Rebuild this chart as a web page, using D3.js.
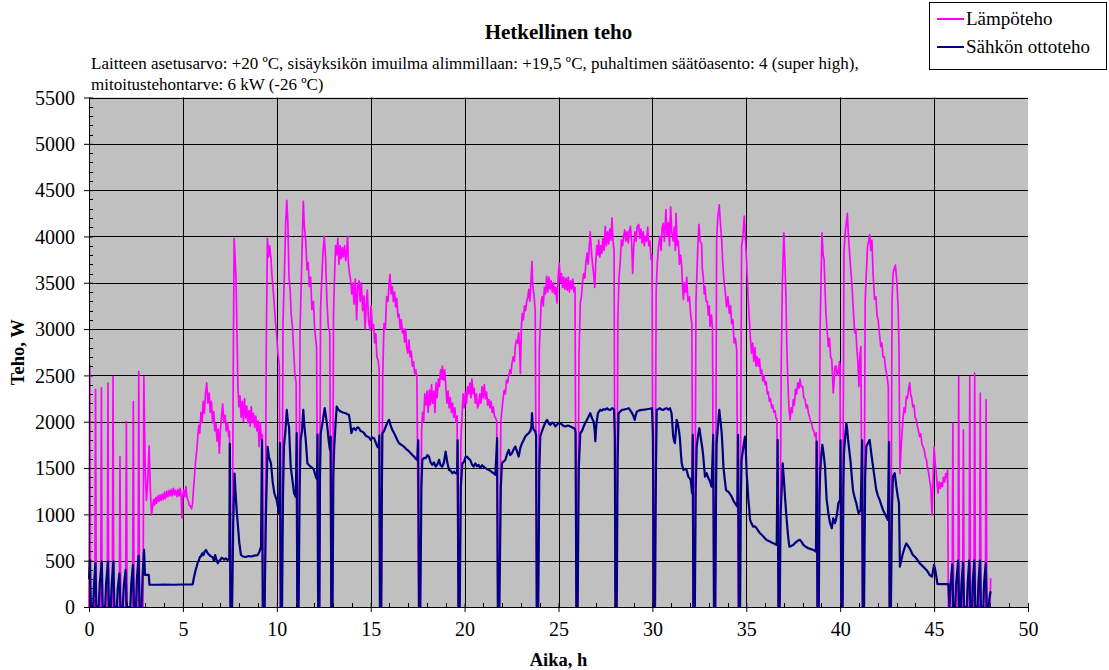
<!DOCTYPE html>
<html>
<head>
<meta charset="utf-8">
<script src="https://cdn.jsdelivr.net/npm/d3@7"></script>
<style>
  body { margin: 0; background: #ffffff; }
  svg text { font-family: "Liberation Serif", "Times New Roman", serif; }
</style>
</head>
<body>
<div id="chart"></div>
<script>
// Aika (h), teho (W)
const lampoteho = [
  [0.00,0],[0.04,2610],[0.08,0],
  [0.31,0],[0.35,2350],[0.39,0],
  [0.62,0],[0.66,2365],[0.70,0],
  [0.97,0],[1.01,2416],[1.05,0],
  [1.24,0],[1.28,2488],[1.32,0],
  [1.61,0],[1.65,1624],[1.69,0],
  [1.95,0],[1.99,2002],[2.03,0],
  [2.32,0],[2.36,2218],[2.40,0],
  [2.61,0],[2.65,2542],[2.69,0],
  [2.88,0],[2.92,2488],[2.99,1500],[3.06,1150],[3.13,1350],[3.20,1740],[3.27,1250],[3.33,994],
  [3.39,1090],[3.44,1160],[3.49,1100],[3.55,1180],[3.60,1120],[3.66,1200],[3.72,1140],[3.78,1210],[3.84,1150],[3.90,1220],
  [3.96,1160],[4.02,1240],[4.08,1170],[4.14,1250],[4.20,1190],[4.26,1260],[4.32,1200],[4.38,1270],[4.44,1200],[4.50,1280],
  [4.56,1210],[4.62,1260],[4.68,1190],[4.74,1270],[4.80,1200],[4.86,1280],[4.91,1190],[4.95,960],[4.99,1200],[5.05,1260],
  [5.11,1190],[5.16,1300],[5.22,1180],[5.28,1150],[5.34,1100],[5.40,1090],[5.46,1060],[5.51,1110],
  [5.56,1260],[5.62,1420],[5.68,1580],[5.74,1700],[5.79,1830],[5.85,1960],[5.90,1880],[5.96,2100],[6.02,1990],[6.08,2220],
  [6.14,2090],[6.20,2300],[6.27,2420],[6.33,2200],[6.40,2310],[6.46,2100],[6.52,2220],[6.58,1990],[6.64,2110],[6.70,1900],
  [6.76,1980],[6.82,1790],[6.88,1920],[6.94,1660],[7.00,1920],[7.06,2060],[7.12,2190],[7.18,1990],[7.25,2070],[7.31,1900],
  [7.38,1990],[7.44,1840],[7.48,1900],
  [7.52,0],[7.62,0],
  [7.68,2500],[7.73,3980],[7.78,3760],[7.83,3530],[7.88,2950],[7.93,2380],[7.98,2160],[8.04,2280],[8.10,2050],[8.16,2220],
  [8.22,2000],[8.28,2250],[8.34,2040],[8.40,2170],[8.46,1990],[8.52,2120],[8.58,1950],[8.64,2160],[8.70,1990],[8.76,2090],
  [8.82,1940],[8.88,2060],[8.94,1900],[9.00,2010],[9.06,1730],[9.12,1990],[9.18,1800],[9.23,1860],
  [9.27,0],[9.37,0],
  [9.44,2800],[9.50,3980],[9.56,3780],[9.62,3900],[9.69,3760],[9.75,3560],[9.81,3420],[9.87,3250],[9.93,3080],[9.99,2940],
  [10.06,2740],[10.13,2620],
  [10.19,0],[10.27,0],
  [10.33,3050],[10.40,3560],[10.47,4120],[10.53,4390],[10.59,4150],[10.65,3560],[10.71,3430],[10.77,3150],[10.83,3030],[10.89,2800],
  [10.96,2520],[11.03,2420],
  [11.08,0],[11.16,0],
  [11.24,3000],[11.31,3560],[11.41,4380],[11.47,4100],[11.54,3960],[11.61,3640],[11.67,3720],[11.73,3460],[11.80,3560],[11.87,3210],
  [11.95,3300],[12.02,2990],[12.12,2800],
  [12.19,0],[12.27,0],
  [12.33,3220],[12.40,3560],[12.46,3830],[12.53,4000],[12.60,3760],[12.67,3300],[12.74,3030],[12.82,2960],
  [12.89,0],[12.96,0],
  [13.02,3180],[13.08,3600],[13.13,3900],[13.19,3800],[13.25,3980],[13.31,3700],[13.37,3900],[13.43,3760],[13.49,3880],[13.55,3780],
  [13.61,3900],[13.67,3740],[13.73,3860],[13.77,4000],[13.81,3720],[13.87,3600],[13.93,3530],[13.99,3380],[14.05,3500],[14.11,3270],
  [14.18,3540],[14.25,3100],[14.31,3460],[14.38,3520],[14.44,3300],[14.50,3500],[14.57,3200],[14.64,3360],[14.70,3000],[14.76,3250],
  [14.82,3420],[14.88,3100],[14.96,2990],[15.02,3250],[15.09,3000],[15.15,3050],[15.21,2850],[15.27,2950],[15.33,2700],[15.40,2660],
  [15.45,2560],
  [15.49,0],[15.57,0],
  [15.64,2500],[15.71,3060],[15.78,3000],[15.85,3350],[15.92,3300],[15.98,3500],[16.03,3590],[16.09,3380],[16.15,3460],[16.21,3300],
  [16.27,3400],[16.33,3240],[16.39,3330],[16.45,3130],[16.51,3160],[16.57,3000],[16.63,3100],[16.69,2960],[16.75,3000],[16.81,2860],
  [16.86,3000],[16.92,2800],[16.98,2740],[17.04,2880],[17.10,2700],[17.16,2760],[17.22,2600],[17.28,2650],[17.34,2520],[17.40,2560],
  [17.46,2470],
  [17.56,0],[17.64,0],
  [17.71,1900],[17.76,2100],[17.82,2000],[17.88,2300],[17.94,2180],[18.00,2330],[18.06,2100],[18.12,2340],[18.18,2180],[18.24,2400],
  [18.30,2200],[18.36,2330],[18.42,2100],[18.48,2420],[18.54,2260],[18.60,2460],[18.66,2380],[18.72,2560],[18.78,2460],[18.82,2600],
  [18.88,2450],[18.94,2560],[19.00,2380],[19.06,2200],[19.12,2330],[19.18,2150],[19.24,2260],[19.30,2100],[19.36,2200],[19.42,2050],
  [19.48,2150],[19.54,2000],[19.60,2060],
  [19.66,0],[19.74,0],
  [19.80,1800],[19.86,2050],[19.92,2300],[19.98,2150],[20.04,2320],[20.10,2200],[20.16,2380],[20.22,2300],[20.28,2420],[20.34,2260],
  [20.39,2460],[20.45,2300],[20.51,2360],[20.57,2200],[20.63,2300],[20.69,2150],[20.75,2180],[20.81,2300],[20.87,2200],[20.93,2380],
  [20.99,2260],[21.05,2400],[21.11,2250],[21.17,2320],[21.23,2180],[21.29,2240],[21.35,2150],[21.41,2220],[21.47,2100],[21.53,2160],
  [21.59,2060],[21.65,2040],[21.71,2010],
  [21.77,0],[21.85,0],
  [21.93,2000],[21.99,2130],[22.05,2250],[22.11,2340],[22.17,2300],[22.23,2450],[22.29,2420],[22.35,2500],[22.41,2560],[22.47,2520],
  [22.53,2640],[22.59,2700],[22.65,2650],[22.70,2810],[22.76,2880],[22.82,2850],[22.88,2960],[22.93,2800],[22.97,2520],[23.02,3000],
  [23.07,3170],[23.13,3100],[23.19,3250],[23.25,3200],[23.31,3300],[23.37,3350],[23.42,3430],[23.47,3300],[23.53,3500],[23.59,3730],
  [23.63,3460],[23.69,3380],[23.76,3200],
  [23.84,0],[23.92,0],
  [23.98,2800],[24.03,3030],[24.08,3300],[24.13,3350],[24.19,3250],[24.25,3450],[24.31,3380],[24.37,3570],[24.43,3400],[24.49,3560],
  [24.55,3430],[24.61,3520],[24.67,3400],[24.73,3500],[24.79,3380],[24.85,3450],[24.92,3280],[24.98,3550],[25.04,3710],[25.10,3500],
  [25.16,3600],[25.22,3450],[25.28,3560],[25.34,3430],[25.40,3550],[25.46,3420],[25.52,3560],[25.58,3400],[25.64,3520],[25.70,3430],
  [25.76,3540],[25.82,3400],[25.88,3450],
  [25.94,0],[26.02,0],
  [26.09,2700],[26.16,3280],[26.22,3350],[26.28,3500],[26.34,3600],[26.40,3550],[26.46,3720],[26.52,3820],[26.58,3700],[26.64,3900],
  [26.69,4050],[26.75,3850],[26.81,3700],[26.87,3600],[26.93,3450],[26.98,3700],[27.04,3900],[27.10,3800],[27.14,3960],[27.20,3780],
  [27.26,3900],[27.31,3820],[27.37,3980],[27.43,3850],[27.49,4110],[27.55,3900],[27.61,4050],[27.67,3920],[27.73,4080],[27.79,3960],
  [27.85,4200],[27.90,3950],[27.96,3850],
  [28.02,0],[28.10,0],
  [28.16,3100],[28.22,3550],[28.28,3700],[28.35,3960],[28.41,3900],[28.47,4000],[28.53,4070],[28.59,3950],[28.65,4050],[28.71,3930],
  [28.77,4060],[28.83,4110],[28.89,3950],[28.95,3600],[29.01,3900],[29.07,4050],[29.13,3950],[29.19,4100],[29.27,4130],[29.33,3980],
  [29.39,4080],[29.45,3930],[29.51,4050],[29.57,3900],[29.63,4000],[29.69,3950],[29.75,4100],[29.81,3900],[29.87,3950],[29.93,3750],
  [29.98,3800],
  [30.05,0],[30.13,0],
  [30.20,3400],[30.26,3710],[30.33,3900],[30.40,4000],[30.46,3850],[30.52,4100],[30.58,4140],[30.64,3950],[30.72,4290],[30.78,4000],
  [30.85,4150],[30.91,3900],[30.97,4320],[31.03,4050],[31.11,3950],[31.17,4100],[31.22,3850],[31.26,4250],[31.32,3900],[31.38,3950],
  [31.44,3700],[31.50,3800],[31.56,3680],[31.61,3450],[31.65,3320],[31.71,3500],[31.77,3400],[31.83,3560],[31.89,3300],[31.97,3350],
  [32.04,3150],[32.10,3060],
  [32.17,0],[32.25,0],
  [32.32,3300],[32.36,3530],[32.42,3900],[32.48,4130],[32.54,3950],[32.62,3920],[32.66,3650],[32.71,3560],[32.76,3380],[32.80,3460],
  [32.86,3300],[32.92,3300],[32.98,3150],[33.03,3250],[33.07,3030],[33.11,3100],[33.15,3150],[33.20,3000],
  [33.27,0],[33.35,0],
  [33.42,3960],[33.48,4200],[33.56,4340],[33.62,4150],[33.69,3960],[33.75,3700],[33.81,3530],[33.87,3420],[33.95,3240],[34.02,3350],
  [34.10,3170],[34.16,3250],[34.22,3060],[34.29,3100],[34.35,2850],[34.42,2900],[34.49,2780],
  [34.58,0],[34.66,0],
  [34.75,3890],[34.82,4000],[34.89,4220],[34.95,4000],[35.02,3710],[35.09,3350],[35.16,3100],[35.22,2900],[35.28,2740],[35.34,2850],
  [35.40,2650],[35.46,2800],[35.52,2600],[35.58,2700],[35.64,2600],[35.70,2680],[35.76,2520],[35.82,2560],[35.88,2440],[35.94,2500],
  [36.00,2400],[36.06,2430],[36.12,2300],[36.17,2320],[36.23,2220],[36.29,2250],[36.35,2150],[36.41,2180],[36.47,2100],[36.53,2120],
  [36.58,2040],[36.63,2030],
  [36.70,0],[36.78,0],
  [36.86,2600],[36.92,3500],[37.00,4040],[37.06,3700],[37.11,3350],[37.16,2800],[37.21,2450],[37.27,2150],[37.33,2020],[37.39,2150],
  [37.45,2100],[37.50,2240],[37.56,2180],[37.62,2350],[37.68,2300],[37.74,2420],[37.80,2360],[37.86,2460],[37.92,2380],[38.00,2380],
  [38.06,2260],[38.13,2240],[38.19,2150],[38.25,2180],[38.31,2090],[38.37,2050],[38.43,2000],[38.48,1980],[38.54,1920],[38.60,1900],
  [38.66,1840],[38.72,1880],
  [38.77,0],[38.85,0],
  [38.93,3000],[39.03,4040],[39.09,3800],[39.14,3750],[39.19,3450],[39.24,3170],[39.30,3000],[39.37,2810],[39.43,2900],[39.49,2700],
  [39.55,2670],[39.59,2500],[39.63,2310],[39.68,2450],[39.73,2600],[39.78,2600],[39.84,2500],[39.90,2520],[39.96,2650],[39.99,2600],
  [40.04,0],[40.12,0],
  [40.20,3820],[40.27,4050],[40.33,4150],[40.38,4250],[40.44,4000],[40.50,3820],[40.56,3650],[40.63,3460],[40.70,3200],[40.77,2960],
  [40.83,3000],[40.88,2810],[40.94,2650],[41.00,2380],[41.05,2700],[41.10,2810],
  [41.18,0],[41.26,0],
  [41.33,3300],[41.39,3600],[41.46,3900],[41.52,3950],[41.57,4020],[41.63,3850],[41.69,3960],[41.75,3600],[41.83,3320],[41.90,3350],
  [41.96,3150],[42.02,3100],[42.09,2950],[42.16,2810],[42.22,2850],[42.28,2700],[42.35,2700],[42.41,2580],[42.47,2520],[42.52,2450],
  [42.56,2380],
  [42.62,0],[42.70,0],
  [42.76,3300],[42.81,3600],[42.87,3650],[42.94,3690],[43.00,3550],[43.04,3420],[43.09,3200],[43.13,2810],[43.18,1440],[43.25,1750],
  [43.34,2020],[43.40,2150],[43.46,2100],[43.52,2270],[43.58,2250],[43.64,2350],[43.70,2420],[43.75,2300],[43.81,2250],[43.87,2160],
  [43.93,2180],[43.99,2050],[44.05,2020],[44.11,1950],[44.17,1900],[44.23,1840],[44.29,1870],[44.35,1760],[44.41,1730],[44.47,1700],
  [44.53,1620],[44.59,1590],[44.65,1500],[44.71,1450],[44.76,1370],[44.82,1300],[44.89,994],[44.95,1400],[45.00,1730],[45.06,1550],
  [45.12,1440],[45.17,1300],[45.21,1230],[45.27,1350],[45.33,1280],[45.38,1340],[45.44,1300],[45.50,1400],[45.56,1350],[45.62,1440],
  [45.68,1400],[45.72,1480],
  [45.76,0],[45.96,0],[46.00,1984],[46.04,0],[46.27,0],[46.31,2488],[46.35,0],[46.52,0],[46.56,1912],[46.60,0],
  [46.86,0],[46.90,2488],[46.94,0],[47.12,0],[47.16,2524],[47.20,0],[47.42,0],[47.46,2308],[47.50,0],
  [47.73,0],[47.77,2236],[47.81,0],[47.98,0],[48.01,310]
];

const sahkoteho = [
  [0.00,300],[0.05,508],[0.10,0],
  [0.22,0],[0.27,250],[0.34,472],[0.39,0],
  [0.52,0],[0.57,250],[0.68,490],[0.73,0],
  [0.86,0],[0.91,250],[1.01,490],[1.06,0],
  [1.16,0],[1.21,250],[1.30,490],[1.35,0],
  [1.48,0],[1.53,200],[1.62,364],[1.67,0],
  [1.80,0],[1.85,220],[1.95,400],[2.00,0],
  [2.20,0],[2.25,250],[2.34,454],[2.39,0],
  [2.50,0],[2.55,300],[2.64,551],[2.69,0],
  [2.80,0],[2.85,320],[2.93,616],[2.98,346],[3.18,346],[3.22,240],[3.60,240],[4.00,242],[4.50,240],[5.00,243],[5.52,245],
  [5.60,330],[5.68,400],[5.74,440],[5.79,480],[5.85,500],[5.90,540],[5.96,545],[6.03,580],[6.10,560],[6.16,600],
  [6.23,616],[6.29,590],[6.36,570],[6.42,560],[6.50,545],[6.58,540],[6.65,500],[6.72,560],[6.80,500],[6.86,472],
  [6.93,500],[7.00,510],[7.06,530],[7.12,526],[7.20,510],[7.28,525],[7.38,508],[7.47,520],
  [7.50,1760],[7.53,0],[7.62,0],[7.68,900],[7.75,1440],[7.80,1250],[7.86,1050],[7.92,904],[8.00,700],[8.09,562],
  [8.20,545],[8.35,540],[8.50,550],[8.65,545],[8.80,555],[8.98,560],[9.08,600],[9.16,650],
  [9.21,1800],[9.25,0],[9.35,0],[9.42,1000],[9.51,1730],[9.58,1620],[9.69,1550],[9.78,1350],[9.87,1228],[9.99,1156],[10.12,1012],
  [10.17,1768],[10.21,0],[10.28,0],[10.33,1200],[10.38,1731],[10.46,1900],[10.53,2128],[10.59,2000],[10.65,1948],[10.70,1700],
  [10.74,1516],[10.83,1372],[10.92,1228],[11.01,1188],
  [11.06,1876],[11.09,0],[11.16,0],[11.22,1300],[11.27,1804],[11.34,1900],[11.41,2128],[11.47,1950],[11.54,1804],[11.63,1552],
  [11.72,1530],[11.80,1516],[11.90,1500],[11.98,1480],[12.07,1408],[12.14,1380],
  [12.17,1860],[12.20,0],[12.27,0],[12.30,1400],[12.34,1876],[12.46,2020],[12.55,2146],[12.62,2050],[12.69,1948],[12.76,1800],[12.83,1696],
  [12.87,1840],[12.90,0],[12.97,0],[13.01,1400],[13.05,1696],[13.12,1950],[13.19,2164],[13.28,2130],[13.40,2110],[13.52,2100],
  [13.67,2092],[13.76,2080],[13.84,2074],[13.91,1990],[13.97,1876],[14.04,1920],[14.11,1930],[14.20,1910],[14.29,1940],[14.38,1930],
  [14.46,1900],[14.55,1894],[14.64,1880],[14.73,1850],[14.82,1840],[14.91,1830],[15.00,1804],[15.09,1830],[15.18,1822],[15.26,1780],
  [15.35,1731],[15.42,1720],
  [15.46,1850],[15.49,0],[15.56,0],[15.60,1400],[15.62,1876],[15.71,1900],[15.80,1948],[15.89,1990],[15.98,2020],[16.06,1960],
  [16.15,1912],[16.24,1880],[16.33,1840],[16.42,1800],[16.51,1768],[16.64,1750],[16.77,1732],[16.86,1710],[16.95,1696],[17.04,1680],
  [17.13,1660],[17.22,1640],[17.31,1624],[17.40,1600],[17.48,1588],
  [17.53,1800],[17.57,0],[17.64,0],[17.70,1300],[17.75,1588],[17.84,1610],[17.93,1606],[18.02,1640],[18.10,1624],[18.19,1560],
  [18.28,1534],[18.37,1560],[18.46,1516],[18.55,1540],[18.64,1588],[18.72,1530],[18.81,1516],[18.90,1560],[18.99,1678],[19.08,1560],
  [19.17,1480],[19.26,1470],[19.35,1444],[19.44,1460],[19.52,1444],[19.60,1440],
  [19.63,1800],[19.67,0],[19.74,0],[19.80,1300],[19.88,1552],[19.95,1560],[20.06,1624],[20.13,1624],[20.22,1600],[20.30,1588],
  [20.39,1540],[20.48,1516],[20.57,1550],[20.66,1520],[20.75,1534],[20.84,1500],[20.93,1530],[21.01,1516],[21.10,1500],[21.19,1490],
  [21.28,1480],[21.37,1470],[21.46,1455],[21.55,1444],[21.64,1426],
  [21.73,1822],[21.77,0],[21.85,0],[21.93,1300],[21.99,1552],[22.08,1570],[22.17,1588],[22.26,1650],[22.35,1696],[22.43,1640],
  [22.52,1660],[22.61,1700],[22.70,1732],[22.79,1680],[22.88,1624],[22.97,1720],[23.06,1768],[23.14,1800],[23.23,1840],[23.32,1860],
  [23.41,1876],[23.50,1900],[23.56,1950],[23.59,2092],[23.63,1950],[23.68,1912],[23.76,1900],
  [23.81,1850],[23.84,0],[23.92,0],[23.98,1500],[24.03,1840],[24.12,1900],[24.21,1948],[24.30,1990],[24.39,2020],[24.48,1980],
  [24.57,1966],[24.66,1990],[24.74,1984],[24.83,1950],[24.92,1966],[25.01,1990],[25.10,1984],[25.23,1960],[25.36,1948],[25.50,1960],
  [25.63,1948],[25.72,1940],[25.81,1930],[25.88,1920],
  [25.91,1880],[25.95,0],[26.02,0],[26.08,1500],[26.16,1876],[26.25,1900],[26.34,1948],[26.43,1990],[26.52,2020],[26.61,2060],
  [26.69,2092],[26.78,2040],[26.87,2002],[26.93,1900],[26.96,1790],[27.02,1980],[27.10,2092],[27.16,2110],[27.22,2128],[27.31,2120],
  [27.40,2135],[27.49,2130],[27.58,2146],[27.67,2130],[27.76,2128],[27.82,2140],[27.88,2146],[27.96,2130],
  [28.00,1850],[28.03,0],[28.10,0],[28.15,1600],[28.20,2092],[28.29,2110],[28.38,2128],[28.47,2130],[28.56,2135],[28.65,2140],
  [28.74,2146],[28.83,2120],[28.92,2092],[28.99,2060],[29.06,2020],[29.12,2080],[29.18,2110],[29.27,2120],[29.36,2125],[29.45,2128],
  [29.58,2130],[29.71,2135],[29.85,2140],[29.98,2146],
  [30.03,1850],[30.07,0],[30.14,0],[30.19,1500],[30.23,2128],[30.31,2135],[30.40,2146],[30.49,2130],[30.58,2128],[30.67,2140],
  [30.76,2146],[30.85,2130],[30.94,2146],[31.02,2092],[31.07,1950],[31.11,1840],[31.16,1790],[31.20,1768],[31.25,1900],[31.29,2020],
  [31.34,1990],[31.38,1948],[31.43,1880],[31.47,1804],[31.52,1650],[31.56,1552],[31.65,1480],[31.74,1490],[31.82,1480],[31.91,1408],
  [31.98,1390],[32.04,1372],[32.11,1228],
  [32.15,1858],[32.18,0],[32.26,0],[32.31,1300],[32.36,1732],[32.43,1850],[32.50,1930],[32.56,1850],[32.62,1768],[32.67,1700],
  [32.71,1624],[32.76,1500],[32.80,1408],[32.85,1430],[32.89,1444],[32.96,1400],[33.03,1372],[33.09,1340],[33.15,1300],
  [33.24,1858],[33.28,0],[33.35,0],[33.39,1300],[33.42,1768],[33.49,1950],[33.56,2128],[33.63,2000],[33.69,1876],[33.74,1700],
  [33.78,1516],[33.85,1380],[33.92,1264],[33.98,1250],[34.04,1246],[34.13,1220],[34.22,1192],[34.31,1150],[34.40,1120],[34.46,1100],
  [34.52,1084],
  [34.56,1858],[34.60,0],[34.67,0],[34.71,1200],[34.75,1588],[34.84,1720],[34.93,1840],[34.98,1650],[35.02,1444],[35.07,1300],
  [35.11,1156],[35.16,1050],[35.20,940],[35.28,900],[35.37,868],[35.46,870],[35.55,850],[35.64,820],[35.73,796],[35.82,780],
  [35.91,760],[36.00,740],[36.08,724],[36.17,715],[36.26,706],[36.35,696],[36.44,688],[36.53,680],[36.62,670],
  [36.67,1804],[36.71,0],[36.78,0],[36.83,1012],[36.89,1300],[36.94,1552],[37.00,1380],[37.06,1192],[37.12,1020],[37.18,868],
  [37.24,740],[37.29,652],[37.40,660],[37.50,670],[37.59,690],[37.68,706],[37.77,720],[37.86,724],[37.95,700],[38.04,670],
  [38.17,650],[38.30,634],[38.44,625],[38.57,616],[38.71,598],
  [38.75,1786],[38.79,0],[38.86,0],[38.90,1200],[38.93,1444],[39.00,1650],[39.05,1750],[39.12,1650],[39.19,1516],[39.23,1350],
  [39.28,1156],[39.33,1080],[39.37,1012],[39.42,950],[39.46,904],[39.51,880],[39.55,850],[39.59,900],[39.63,958],[39.68,930],
  [39.72,904],[39.77,940],[39.81,976],[39.86,1050],[39.90,1120],[39.95,1140],[39.99,1156],
  [40.02,1800],[40.06,0],[40.13,0],[40.17,1300],[40.20,1660],[40.27,1850],[40.33,1984],[40.38,1900],[40.42,1804],[40.49,1680],
  [40.56,1552],[40.62,1400],[40.68,1264],[40.77,1180],[40.86,1120],[40.92,1060],[40.98,1012],[41.04,1030],[41.09,1048],
  [41.17,1800],[41.20,0],[41.27,0],[41.33,1400],[41.39,1732],[41.48,1770],[41.57,1804],[41.66,1650],[41.75,1516],[41.84,1380],
  [41.92,1264],[42.01,1200],[42.10,1156],[42.19,1100],[42.28,1048],[42.37,1010],[42.45,976],[42.54,940],
  [42.60,1780],[42.63,0],[42.70,0],[42.76,1100],[42.81,1408],[42.86,1430],[42.90,1444],[42.95,1370],[42.99,1300],[43.06,1200],
  [43.13,1120],[43.18,436],[43.26,510],[43.34,580],[43.43,640],[43.52,688],[43.61,660],[43.70,634],[43.78,600],[43.87,562],
  [43.96,545],[44.05,526],[44.14,500],[44.23,472],[44.32,455],[44.41,436],[44.50,418],[44.59,400],[44.68,375],[44.76,346],
  [44.84,335],[44.89,328],[44.95,400],[45.00,454],[45.05,410],[45.09,364],[45.14,300],[45.18,248],[45.40,246],[45.60,248],[45.76,248],
  [45.82,0],[45.88,250],[45.97,460],[46.02,0],
  [46.13,0],[46.18,260],[46.28,500],[46.33,0],
  [46.42,0],[46.46,250],[46.54,480],[46.59,0],
  [46.74,0],[46.79,260],[46.87,500],[46.92,0],
  [47.02,0],[47.06,260],[47.14,500],[47.19,0],
  [47.32,0],[47.36,260],[47.44,500],[47.49,0],
  [47.62,0],[47.66,250],[47.75,470],[47.80,0],
  [47.90,0],[47.95,100],[48.01,170]
];

const seriesNames = ["Lämpöteho", "Sähkön ottoteho"];
const seriesColors = ["#FF00FF", "#000080"];
const xTicks = d3.range(0, 51, 5);
const yTicks = d3.range(0, 5501, 500);
const xMinor = d3.range(0, 51, 1);
const yMinor = d3.range(0, 5501, 100);

const title = "Hetkellinen teho";
const subtitle = [
  "Laitteen asetusarvo: +20 ºC, sisäyksikön imuilma alimmillaan: +19,5 ºC, puhaltimen säätöasento: 4 (super high),",
  "mitoitustehontarve: 6 kW (-26 ºC)"
];

const width = 1109;
const height = 670;
const plot = { left: 89, right: 1028, top: 97.5, bottom: 607 };
const serif = "'Liberation Serif', 'Times New Roman', serif";

const svg = d3.select("#chart")
  .append("svg")
  .attr("width", width)
  .attr("height", height)
  .style("display", "block");

const x = d3.scaleLinear().domain([0, 50]).range([plot.left, plot.right]);
const y = d3.scaleLinear().domain([0, 5500]).range([plot.bottom, plot.top]);

// plot area
svg.append("rect")
  .attr("x", plot.left)
  .attr("y", plot.top)
  .attr("width", plot.right - plot.left)
  .attr("height", plot.bottom - plot.top)
  .attr("fill", "#C0C0C0");

// gridlines
svg.append("g")
  .selectAll("line")
  .data(yTicks.filter(d => d > 0))
  .join("line")
  .attr("x1", plot.left)
  .attr("x2", plot.right)
  .attr("y1", d => Math.round(y(d)) + 0.5)
  .attr("y2", d => Math.round(y(d)) + 0.5)
  .attr("stroke", "#000")
  .attr("stroke-width", 1);

svg.append("g")
  .selectAll("line")
  .data(xTicks.filter(d => d > 0 && d < 50))
  .join("line")
  .attr("x1", d => Math.round(x(d)) + 0.5)
  .attr("x2", d => Math.round(x(d)) + 0.5)
  .attr("y1", plot.top)
  .attr("y2", plot.bottom)
  .attr("stroke", "#000")
  .attr("stroke-width", 1);

// series
const line = d3.line()
  .x(d => x(d[0]))
  .y(d => y(d[1]));

svg.append("path")
  .datum(lampoteho)
  .attr("fill", "none")
  .attr("stroke", seriesColors[0])
  .attr("stroke-width", 1.7)
  .attr("stroke-linejoin", "round")
  .attr("d", line);

svg.append("path")
  .datum(sahkoteho)
  .attr("fill", "none")
  .attr("stroke", seriesColors[1])
  .attr("stroke-width", 2.2)
  .attr("stroke-linejoin", "round")
  .attr("d", line);

// axes
const xAxis = svg.append("g")
  .attr("transform", `translate(0,${plot.bottom})`);
xAxis.call(d3.axisBottom(x).tickValues(xTicks).tickSize(5).tickFormat(d3.format("d")))
  .call(g => g.select(".domain").remove())
  .call(g => g.selectAll(".tick line").attr("y1", -4))
  .call(g => g.selectAll(".tick text")
    .attr("y", 29)
    .attr("dy", 0)
    .attr("fill", "#000")
    .style("font-family", serif)
    .style("font-size", "20px"));
xAxis.append("g")
  .selectAll("line")
  .data(xMinor.filter(d => d % 5 !== 0))
  .join("line")
  .attr("x1", d => Math.round(x(d)) + 0.5)
  .attr("x2", d => Math.round(x(d)) + 0.5)
  .attr("y1", 0)
  .attr("y2", -4)
  .attr("stroke", "#000");
xAxis.append("line")
  .attr("x1", plot.left)
  .attr("x2", plot.right)
  .attr("y1", 0.5)
  .attr("y2", 0.5)
  .attr("stroke", "#000");

const yAxis = svg.append("g")
  .attr("transform", `translate(${plot.left},0)`);
yAxis.call(d3.axisLeft(y).tickValues(yTicks).tickSize(5).tickPadding(9).tickFormat(d3.format("d")))
  .call(g => g.select(".domain").remove())
  .call(g => g.selectAll(".tick line").attr("x1", 4))
  .call(g => g.selectAll(".tick text")
    .attr("dy", "0.34em")
    .attr("fill", "#000")
    .style("font-family", serif)
    .style("font-size", "20px"));
yAxis.append("g")
  .selectAll("line")
  .data(yMinor.filter(d => d % 500 !== 0))
  .join("line")
  .attr("x1", 0)
  .attr("x2", 4)
  .attr("y1", d => Math.round(y(d)) + 0.5)
  .attr("y2", d => Math.round(y(d)) + 0.5)
  .attr("stroke", "#000");
yAxis.append("line")
  .attr("x1", 0.5)
  .attr("x2", 0.5)
  .attr("y1", plot.top)
  .attr("y2", plot.bottom)
  .attr("stroke", "#000");

// titles
svg.append("text")
  .attr("x", (plot.left + plot.right) / 2)
  .attr("y", 39)
  .attr("text-anchor", "middle")
  .attr("font-weight", "bold")
  .attr("font-size", "21px")
  .style("font-family", serif)
  .text(title);

svg.append("g")
  .selectAll("text")
  .data(subtitle)
  .join("text")
  .attr("x", 91)
  .attr("y", (d, i) => 69 + i * 21)
  .attr("font-size", "17px")
  .style("font-family", serif)
  .text(d => d);

svg.append("text")
  .attr("x", (plot.left + plot.right) / 2)
  .attr("y", 666)
  .attr("text-anchor", "middle")
  .attr("font-weight", "bold")
  .attr("font-size", "18.5px")
  .style("font-family", serif)
  .text("Aika, h");

svg.append("text")
  .attr("transform", `translate(24,${(plot.top + plot.bottom) / 2}) rotate(-90)`)
  .attr("text-anchor", "middle")
  .attr("font-weight", "bold")
  .attr("font-size", "18.5px")
  .style("font-family", serif)
  .text("Teho, W");

// legend
const legend = svg.append("g");
legend.append("rect")
  .attr("x", 929.5)
  .attr("y", 2.5)
  .attr("width", 177)
  .attr("height", 67)
  .attr("fill", "#fff")
  .attr("stroke", "#000");

const items = legend.selectAll("g.item")
  .data(seriesNames)
  .join("g")
  .attr("class", "item")
  .attr("transform", (d, i) => `translate(0,${19 + i * 28})`);

items.append("line")
  .attr("x1", 937)
  .attr("x2", 964)
  .attr("y1", 0)
  .attr("y2", 0)
  .attr("stroke", (d, i) => seriesColors[i])
  .attr("stroke-width", 2);

items.append("text")
  .attr("x", 966)
  .attr("y", 6)
  .attr("font-size", "19px")
  .style("font-family", serif)
  .text(d => d);
</script>
</body>
</html>
